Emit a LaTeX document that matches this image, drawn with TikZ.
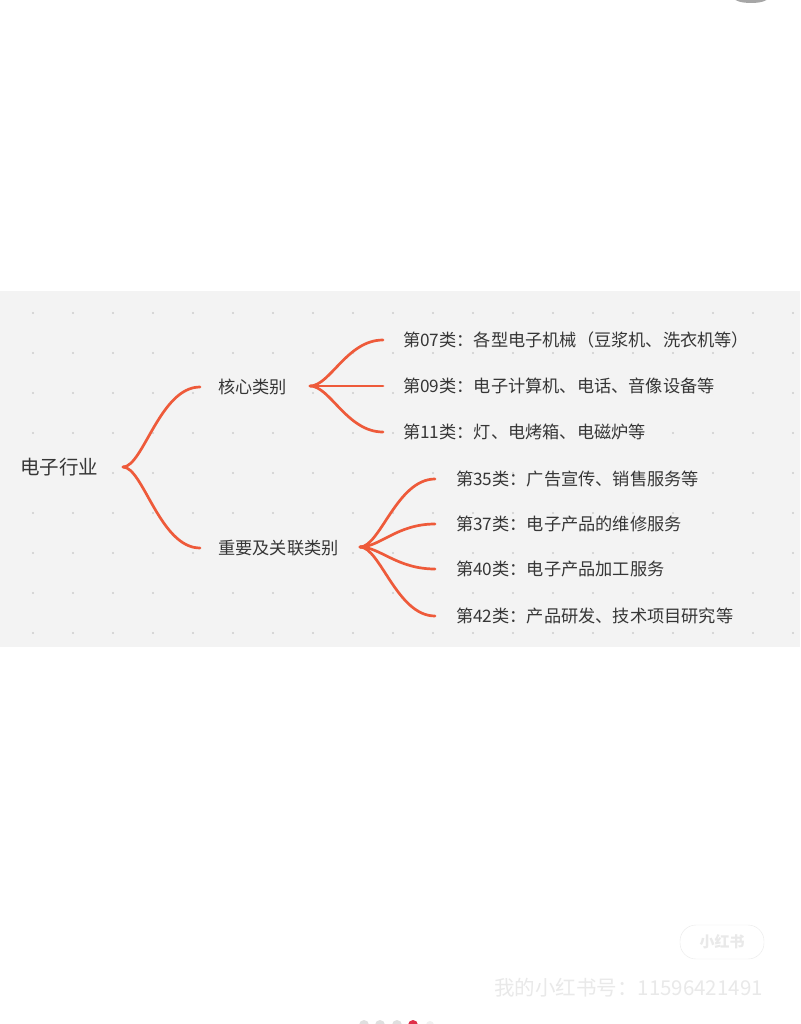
\documentclass[tikz,border=0pt]{standalone}
\usepackage{fontspec}
\newfontfamily\cjk{Noto Sans CJK SC}
\definecolor{panel}{HTML}{F3F3F3}
\definecolor{griddot}{HTML}{CDCDCD}
\definecolor{branchc}{HTML}{EE5A3A}
\definecolor{txt}{HTML}{363636}
\definecolor{wm}{HTML}{E9E9E9}
\definecolor{pagered}{HTML}{E0304A}
\tikzset{
  lbl/.style={anchor=west, inner sep=0pt, text=txt, font=\cjk\fontsize{17.2}{17.2}\selectfont, text height=0.88em, text depth=0.12em, fill=panel},
  rootlbl/.style={lbl, font=\cjk\fontsize{19.5}{19.5}\selectfont},
  branch/.style={draw=branchc, line width=2.7pt, line cap=round}
}
\begin{document}
\begin{tikzpicture}[x=1pt,y=-1pt]
\clip (0,0) rectangle (800,1024);
\fill[white] (0,0) rectangle (800,1024);
% top-right remnant
\fill[gray!70] (751,-2) ellipse [x radius=17, y radius=5];
% panel
\fill[panel] (0,291) rectangle (800,647);
\foreach \i in {0,...,19}{
  \foreach \j in {0,...,8}{
    \fill[griddot] (33+40*\i,313+40*\j) circle (1.1);
  }
}
% nodes (text set 3px lower than the connector ends)
\node[rootlbl] (root) at (20,471) {电子行业};
\node[lbl] (core) at (218,390) {核心类别};
\node[lbl] (imp) at (218,551) {重要及关联类别};
\node[lbl] (l1) at (403,343) {第07类：各型电子机械（豆浆机、洗衣机等）};
\node[lbl] (l2) at (403,389) {第09类：电子计算机、电话、音像设备等};
\node[lbl] (l3) at (403,435) {第11类：灯、电烤箱、电磁炉等};
\node[lbl] (l4) at (456,482) {第35类：广告宣传、销售服务等};
\node[lbl] (l5) at (456,527) {第37类：电子产品的维修服务};
\node[lbl] (l6) at (456,572) {第40类：电子产品加工服务};
\node[lbl] (l7) at (456,619) {第42类：产品研发、技术项目研究等};
% connector anchors
\coordinate (rootout) at (123,467);
\coordinate (coreout) at (310,386);
\coordinate (impout) at (360,547);
% connectors
\foreach \t in {core,imp}{
  \draw[branch] (rootout) .. controls +(20,0) and +(-40,0) .. ([xshift=-18pt,yshift=3pt]\t.west);
}
\foreach \t in {l1,l2,l3}{
  \draw[branch] (coreout) .. controls +(20,0) and +(-36,0) .. ([xshift=-20pt,yshift=3pt]\t.west);
}
\foreach \t in {l4,l5,l6,l7}{
  \draw[branch] (impout) .. controls +(20,0) and +(-38,0) .. ([xshift=-21pt,yshift=3pt]\t.west);
}
% watermark logo and text
\node[draw=wm, fill=white, rounded corners=16pt, minimum width=84pt, minimum height=34pt, text=wm, font=\cjk\bfseries\fontsize{15}{15}\selectfont] (logo) at (722,942) {小红书};
\node[anchor=west, inner sep=0pt, text=wm, font=\cjk\fontsize{20.5}{20.5}\selectfont] (wmtext) at (494,988) {我的小红书号：11596421491};
% page dots
\fill[gray!25] (364,1025) circle (5);
\fill[gray!25] (380,1025) circle (5);
\fill[gray!25] (397,1025) circle (5);
\fill[pagered] (413,1025) circle (5);
\fill[gray!12] (430,1025) circle (4);
\end{tikzpicture}
\end{document}
